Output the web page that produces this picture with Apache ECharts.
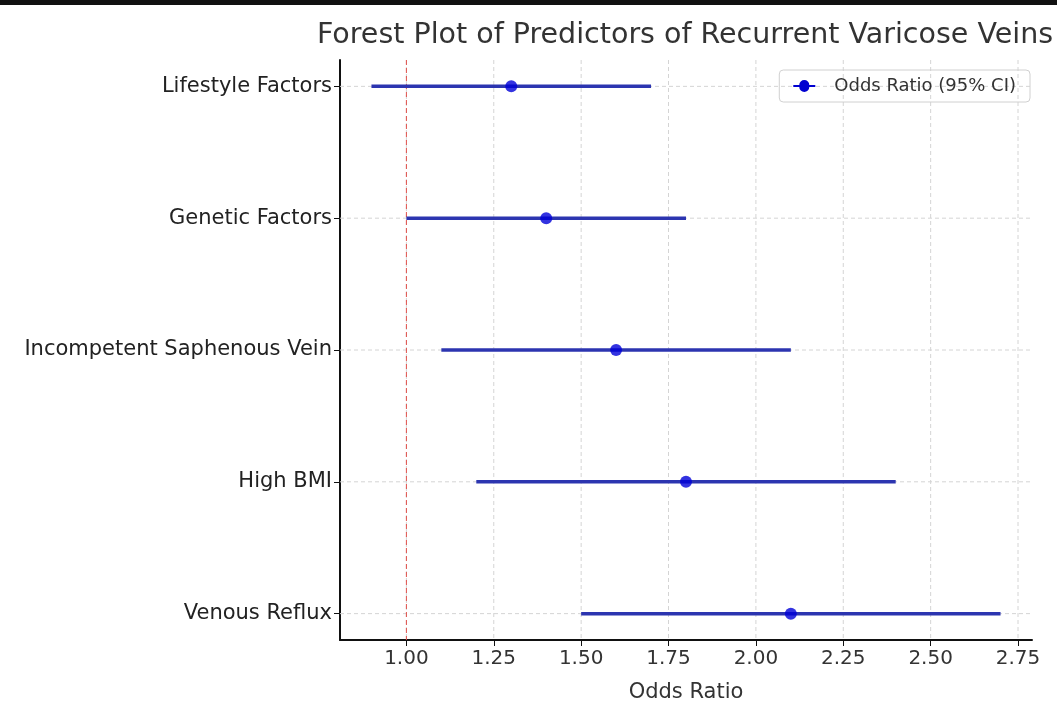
<!DOCTYPE html>
<html>
<head>
<meta charset="utf-8">
<script src="https://cdn.jsdelivr.net/npm/echarts@6/dist/echarts.min.js"></script>
<style>html, body {margin: 0; background: #fff} #main {width: 1057px; height: 706px}</style>
</head>
<body>
<div id="main"></div>
<script>
// predictors, bottom to top as plotted
var factors = ["Venous Reflux", "High BMI", "Incompetent Saphenous Vein", "Genetic Factors", "Lifestyle Factors"]
var oddsRatio = [2.1, 1.8, 1.6, 1.4, 1.3]
var ciLow = [1.5, 1.2, 1.1, 1.0, 0.9]
var ciHigh = [2.7, 2.4, 2.1, 1.8, 1.7]
var xTicks = [1.00, 1.25, 1.50, 1.75, 2.00, 2.25, 2.50, 2.75]
var yTicks = [0, 1, 2, 3, 4]

var font = "DejaVu Sans"
var chart = echarts.init(document.getElementById("main"))

var dash = {stroke: "#d4d4d4", lineWidth: 1, lineDash: [4, 3]}

chart.setOption({
    animation: false,
    textStyle: {fontFamily: font},
    title: {text: "Forest Plot of Predictors of Recurrent Varicose Veins", left: 680, top: 16, textAlign: "center",
        textStyle: {fontFamily: font, fontSize: 28.5, fontWeight: "normal", color: "#333"}},
    legend: {top: 70, right: 27, padding: [7, 14, 7, 14], itemGap: 0, itemWidth: 22, itemHeight: 12,
        borderColor: "#d0d0d0", borderWidth: 1, borderRadius: 4,
        textStyle: {fontFamily: font, fontSize: 18, color: "#333", padding: [0, 0, 0, 14]},
        data: [{name: "Odds Ratio (95% CI)", icon: "path://M0,5h6a5,5 0 0 1 10,0h6v2h-6a5,5 0 0 1 -10,0h-6z"}]},
    grid: {left: 340, right: 25, top: 60, bottom: 66, containLabel: false, outerBoundsMode: "none"},
    xAxis: {type: "value", min: 0.81, max: 2.79, name: "Odds Ratio", nameLocation: "middle", nameGap: 42,
        nameTextStyle: {fontFamily: font, fontSize: 21, color: "#333"},
        axisLine: {onZero: false, lineStyle: {color: "#111", width: 2}},
        axisTick: {show: true, length: 6, lineStyle: {color: "#111"}, customValues: xTicks},
        axisLabel: {fontSize: 20, color: "#333", margin: 9, customValues: xTicks,
            formatter: function(v) { return v.toFixed(2) }},
        splitLine: {show: false}},
    yAxis: {type: "value", min: -0.2, max: 4.2,
        axisLine: {show: true, onZero: false, lineStyle: {color: "#111", width: 2}},
        axisTick: {show: true, length: 6, lineStyle: {color: "#111"}, customValues: yTicks},
        axisLabel: {fontSize: 21, color: "#222", margin: 8, customValues: yTicks,
            formatter: function(v) { return factors[Math.round(v)] || "" }},
        splitLine: {show: false}},
    series: [
        {type: "custom", silent: true, z: 1, data: xTicks.map(function(v) { return [v, 0] }),
            renderItem: function(params, api) {
                var cs = params.coordSys, a = api.coord([api.value(0), 0])
                return {type: "line", shape: {x1: a[0], y1: cs.y, x2: a[0], y2: cs.y + cs.height}, style: dash}
            }},
        {type: "custom", silent: true, z: 1, data: yTicks.map(function(v) { return [1, v] }),
            renderItem: function(params, api) {
                var cs = params.coordSys, a = api.coord([1, api.value(1)])
                return {type: "line", shape: {x1: cs.x, y1: a[1], x2: cs.x + cs.width, y2: a[1]}, style: dash}
            }},
        {type: "custom", silent: true, z: 2, data: [[1, 0]],
            renderItem: function(params, api) {
                var cs = params.coordSys, a = api.coord([api.value(0), 0])
                return {type: "line", shape: {x1: a[0], y1: cs.y, x2: a[0], y2: cs.y + cs.height},
                    style: {stroke: "#e0504a", lineWidth: 1, lineDash: [5, 3]}}
            }},
        {type: "custom", name: "Odds Ratio (95% CI)", z: 3, itemStyle: {color: "#0000d0"},
            data: factors.map(function(f, i) { return [ciLow[i], ciHigh[i], i] }),
            renderItem: function(params, api) {
                var a = api.coord([api.value(0), api.value(2)]), b = api.coord([api.value(1), api.value(2)])
                return {type: "line", shape: {x1: a[0], y1: a[1], x2: b[0], y2: b[1]},
                    style: {stroke: "#2c35b0", lineWidth: 3.5}}
            }, encode: {x: [0, 1], y: 2}},
        {type: "scatter", name: "Odds Ratio (95% CI)", z: 4, symbol: "circle", symbolSize: 12,
            itemStyle: {color: "#0000d8"},
            data: oddsRatio.map(function(v, i) { return [v, i] })}
    ],
    graphic: [{type: "rect", left: 0, top: 0, shape: {width: 1057, height: 5}, style: {fill: "#111"}}]
})
</script>
</body>
</html>
